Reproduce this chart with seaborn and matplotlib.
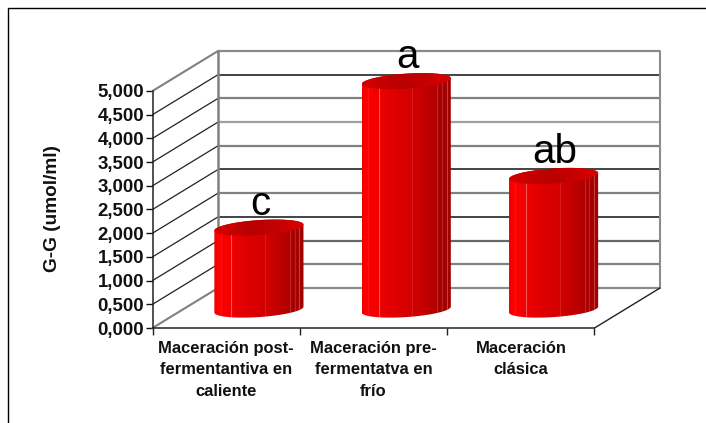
import numpy as np
import pandas as pd
import matplotlib
matplotlib.use("Agg")
import matplotlib.pyplot as plt
from matplotlib.colors import LinearSegmentedColormap
from matplotlib.lines import Line2D
from matplotlib.path import Path
from matplotlib.ticker import FuncFormatter, MultipleLocator
import seaborn as sns

# Chart data
categories = [
    "Maceración post-\nfermentantiva en\ncaliente",
    "Maceración pre-\nfermentatva en\nfrío",
    "Maceración\nclásica",
]
gg_values = [1.73, 4.82, 2.82]
group_letters = ["c", "a", "ab"]
y_label = "G-G (umol/ml)"

W, H = 706, 423
LEFT, RIGHT, TOP, BOTTOM = 152.5, 594.5, 91, 328

sns.set_theme(style="white")
plt.rcParams["font.family"] = ["Liberation Sans", "DejaVu Sans"]
plt.rcParams["font.weight"] = "bold"

fig = plt.figure(figsize=(W / 100, H / 100), dpi=100, facecolor="white")
ax = fig.add_axes([LEFT / W, 1 - BOTTOM / H, (RIGHT - LEFT) / W, (BOTTOM - TOP) / H])
ax.set_facecolor("none")

frame = pd.DataFrame({"metodo": categories, "gg": gg_values})
sns.barplot(data=frame, x="metodo", y="gg", width=0.605, color="#d00000",
            errorbar=None, ax=ax)

# Depth of the oblique 3D box, in data units of each axis
DEPTH_X = 65.5 / 147.3
DEPTH_Y = 40 / 47.4
BAR_DEPTH = 0.46
X0, X1 = -0.5, 2.5

# Rule colours from the floor up to the top of the wall
grid_colors = ["#8a8a8a", "#808080", "#666666", "#111111", "#808080", "#111111",
               "#808080", "#a0a0a0", "#808080", "#111111", "#8a8a8a"]
levels = np.arange(0, 5.01, 0.5)

# Back wall rules and the slanted rules of the left wall
for level, color in zip(levels, grid_colors):
    lw = 1.6 if color != "#111111" else 1.1
    ax.plot([X0 + DEPTH_X, X1 + DEPTH_X], [level + DEPTH_Y] * 2, color=color,
            lw=lw, clip_on=False, zorder=1, solid_capstyle="butt")
    side = "#808080" if level in (0, 5) else "#222222"
    ax.plot([X0, X0 + DEPTH_X], [level, level + DEPTH_Y], color=side,
            lw=1.5 if level in (0, 5) else 0.9, clip_on=False, zorder=1)

# Vertical wall edges and the right floor edge
ax.plot([X0 + DEPTH_X] * 2, [DEPTH_Y, 5 + DEPTH_Y], color="#808080", lw=1.8, clip_on=False, zorder=1)
ax.plot([X1 + DEPTH_X] * 2, [DEPTH_Y, 5 + DEPTH_Y], color="#8c8c8c", lw=1.5, clip_on=False, zorder=1)
ax.plot([X1, X1 + DEPTH_X], [0, DEPTH_Y], color="#222222", lw=1.0, clip_on=False, zorder=1)

side_cmap = LinearSegmentedColormap.from_list(
    "side", [(0, "#f00000"), (0.05, "#ff0000"), (0.18, "#f00000"), (0.35, "#e00000"),
             (0.6, "#d00000"), (0.8, "#b40000"), (0.9, "#a60000"), (1, "#a00000")])
top_cmap = LinearSegmentedColormap.from_list(
    "top", [(0, "#d40000"), (0.45, "#b80000"), (0.7, "#c40000"), (1, "#dc0000")])
ramp = np.linspace(0, 1, 256)[None, :]

ELLIPSE_B = 0.158
ELLIPSE_TILT = 0.062
facets = [0.07, 0.19, 0.57, 0.85, 0.90, 0.955]
facet_alpha = [0.10, 0.45, 0.15, 0.2, 0.2, 0.35]


def rim(cx, half, base, t):
    return np.column_stack([cx + half * np.cos(t),
                            base + ELLIPSE_TILT * np.cos(t) + ELLIPSE_B * np.sin(t)])


# Turn each seaborn bar into a shaded cylinder standing mid-way into the box
for bar, letter in zip(list(ax.patches), group_letters):
    bar.set_visible(False)
    half = bar.get_width() / 2
    cx = bar.get_x() + half + DEPTH_X / 2
    base = DEPTH_Y * BAR_DEPTH
    value = bar.get_height()
    top = base + value

    lower = rim(cx, half, base, np.linspace(np.pi, 2 * np.pi, 80))
    upper = rim(cx, half, top, np.linspace(0, np.pi, 80))
    outline = np.vstack([lower, upper, lower[:1]])
    body_path = Path(outline)

    body = ax.imshow(ramp, cmap=side_cmap, aspect="auto", zorder=3,
                     extent=(cx - half, cx + half, base - 0.3, top + 0.3))
    body.set_clip_box(fig.bbox)
    body.set_clip_path(body_path, ax.transData)

    for frac, alpha in zip(facets, facet_alpha):
        line, = ax.plot([cx - half + 2 * half * frac] * 2, [base - 0.3, top + 0.3],
                        color="#ffc0c0", lw=0.8, alpha=alpha, zorder=3.5)
        line.set_clip_box(fig.bbox)
        line.set_clip_path(body_path, ax.transData)

    cap_path = Path(rim(cx, half, top, np.linspace(0, 2 * np.pi, 120)))
    cap = ax.imshow(ramp, cmap=top_cmap, aspect="auto", zorder=4,
                    extent=(cx - half, cx + half, top - 0.3, top + 0.3))
    cap.set_clip_box(fig.bbox)
    cap.set_clip_path(cap_path, ax.transData)

    ax.text(cx + 0.01, top + 0.27, letter, ha="center", va="baseline", fontsize=29,
            fontweight="normal", color="black", zorder=5, clip_on=False)

# Axes, ticks and labels
ax.set_xlim(X0, X1)
ax.set_ylim(0, 5)
ax.yaxis.set_major_locator(MultipleLocator(0.5))
ax.yaxis.set_major_formatter(FuncFormatter(lambda v, _: f"{v:.3f}".replace(".", ",")))
ax.set_xticks(range(len(categories)))
ax.set_xticklabels(categories, fontsize=11.9, fontweight="bold", color="#111111", linespacing=1.58)
ax.set_xticks([-0.5, 0.5, 1.5, 2.5], minor=True)
ax.tick_params(axis="x", which="major", length=0, pad=9)
ax.tick_params(axis="x", which="minor", length=5, width=1, color="#222222", bottom=True)
ax.tick_params(axis="y", length=5, width=1, color="#111111", left=True, pad=1,
               labelsize=13.4, labelcolor="#111111")
for label in ax.get_yticklabels():
    label.set_fontweight("bold")
ax.set_xlabel("")
ax.set_ylabel(y_label, fontsize=13.7, fontweight="bold", color="#111111", labelpad=0)
ax.yaxis.set_label_coords((61 - LEFT) / (RIGHT - LEFT), (BOTTOM - 208.5) / (BOTTOM - TOP))
sns.despine(ax=ax, top=True, right=True)
for name in ("left", "bottom"):
    ax.spines[name].set_color("#222222")
    ax.spines[name].set_linewidth(1.1)

# Chart border: only its left and top edges fall inside the canvas
fig.add_artist(Line2D([7.5 / W, 7.5 / W, 1.0], [0.0, 1 - 8.5 / H, 1 - 8.5 / H],
                      transform=fig.transFigure, color="black", lw=1.0,
                      solid_joinstyle="miter"))

fig.savefig("out.png", dpi=100)
